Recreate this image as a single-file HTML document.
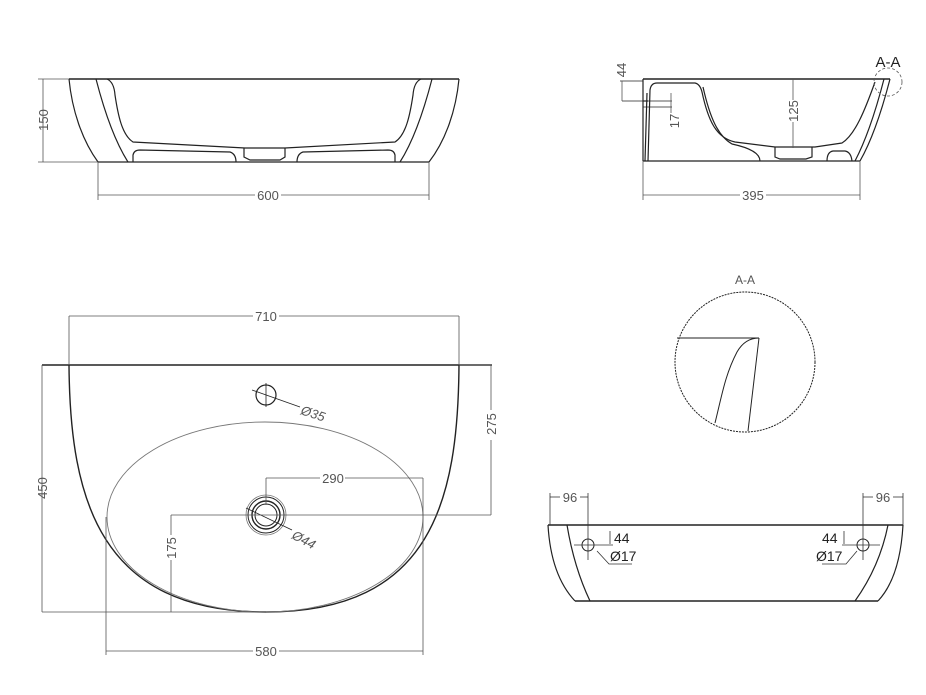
<!DOCTYPE html>
<html><head><meta charset="utf-8"><style>
html,body{margin:0;padding:0;background:#fff;width:926px;height:695px;overflow:hidden}
svg{display:block}
text{font-family:"Liberation Sans",sans-serif;fill:#555}
</style></head><body>
<svg width="926" height="695" viewBox="0 0 926 695" xmlns="http://www.w3.org/2000/svg">
<g fill="none" stroke="#222" stroke-width="1.2">
<!-- Top-left elevation -->
<line x1="69" y1="79" x2="459" y2="79" stroke-width="1.5"/>
<line x1="98" y1="162" x2="429" y2="162"/>
<path d="M69 79 C72 110 82 140 98 162"/>
<path d="M459 79 C456 110 446 140 429 162"/>
<path d="M96 79 C104 110 114 140 128 162"/>
<path d="M432 79 C424 110 414 140 400 162"/>
<path d="M107 79 Q114 82 115 95 C118 115 122 135 133 142 L245 148 L285 148 L395 142 C406 135 410 115 413 95 Q414 82 421 79"/>
<path d="M133 162 L133 155 Q134 150 140 150 L230 152 Q236 154 236 162"/>
<path d="M297 162 Q297 154 303 152 L388 150 Q394 150 395 155 L395 162"/>
<path d="M244 148 L244 157 L250 160 L280 160 L285 157 L285 148"/>
</g>
<g stroke="#555" stroke-width="0.8" fill="none">
<line x1="38" y1="79" x2="69" y2="79"/><line x1="38" y1="162" x2="98" y2="162"/>
<line x1="43" y1="79" x2="43" y2="162"/>
<line x1="98" y1="162" x2="98" y2="200"/><line x1="429" y1="162" x2="429" y2="200"/>
<line x1="98" y1="195" x2="255" y2="195"/><line x1="281" y1="195" x2="429" y2="195"/>
</g>
<text x="268" y="200" font-size="13" text-anchor="middle">600</text>
<text transform="translate(48,120) rotate(-90)" font-size="13" text-anchor="middle">150</text>

<!-- Top-right side view -->
<g fill="none" stroke="#222" stroke-width="1.2">
<line x1="643" y1="79" x2="890" y2="79" stroke-width="1.5"/>
<line x1="643" y1="161" x2="860" y2="161"/>
<line x1="643" y1="79" x2="643" y2="161"/>
<path d="M890 79 C882 110 872 140 860 161"/>
<path d="M884 79 C876 110 866 140 855 161"/>
<path d="M648 161 L650 90 Q651 83 657 83 L695 83 Q700 84 702 92 C708 120 716 138 735 142 L775 147 L815 147 L842 143 C855 135 865 110 875 82"/>
<path d="M645 161 L647 93"/>
<path d="M703 87 C710 118 718 136 732 144 Q760 150 760 161"/>
<path d="M775 147 L775 157 L780 159 L806 159 L812 157 L812 147"/>
<path d="M827 161 Q827 152 833 151 L845 151 Q851 152 852 161"/>
<line x1="643" y1="81" x2="620" y2="81" stroke-width="0.8"/>
<line x1="622" y1="101" x2="672" y2="101" stroke-width="0.8"/>
<line x1="643" y1="107" x2="672" y2="107" stroke-width="0.8"/>
<line x1="643" y1="101" x2="648" y2="101"/>
</g>
<g stroke="#555" stroke-width="0.8" fill="none">
<line x1="622" y1="81" x2="622" y2="101"/>
<line x1="671" y1="93" x2="671" y2="113"/>
<line x1="793" y1="79" x2="793" y2="100"/><line x1="793" y1="122" x2="793" y2="148"/>
<line x1="643" y1="161" x2="643" y2="200"/><line x1="860" y1="161" x2="860" y2="200"/>
<line x1="643" y1="195" x2="740" y2="195"/><line x1="766" y1="195" x2="860" y2="195"/>
<circle cx="888" cy="82" r="14" stroke-dasharray="3 2"/>
</g>
<text x="753" y="200" font-size="13" text-anchor="middle">395</text>
<text transform="translate(626,70) rotate(-90)" font-size="13" text-anchor="middle">44</text>
<text transform="translate(679,121) rotate(-90)" font-size="13" text-anchor="middle">17</text>
<text transform="translate(798,111) rotate(-90)" font-size="13" text-anchor="middle">125</text>
<text x="888" y="67" font-size="15" text-anchor="middle" style="fill:#222">A-A</text>

<!-- Plan view -->
<g fill="none" stroke="#222">
<line x1="42" y1="365" x2="492" y2="365" stroke-width="1.5"/>
<path d="M69 365 C70 500 100 612 266 612 C432 612 458 500 459 365" stroke-width="1.4"/>
<ellipse cx="265" cy="517" rx="158" ry="95" stroke="#777" stroke-width="0.9"/>
<circle cx="266" cy="395" r="10" stroke-width="1.2"/>
<line x1="252" y1="390" x2="300" y2="407" stroke-width="0.8"/>
<line x1="266" y1="383" x2="266" y2="407" stroke-width="0.8"/>
<circle cx="266" cy="515" r="20" stroke-width="0.8" stroke="#777"/>
<circle cx="266" cy="515" r="18" stroke-width="1"/>
<circle cx="266" cy="515" r="14" stroke-width="1.4"/>
<circle cx="266" cy="515" r="11" stroke-width="1"/>
<line x1="246" y1="508" x2="292" y2="530" stroke-width="0.8"/>
</g>
<g stroke="#555" stroke-width="0.8" fill="none">
<line x1="69" y1="316" x2="69" y2="365"/><line x1="459" y1="316" x2="459" y2="365"/>
<line x1="69" y1="316" x2="253" y2="316"/><line x1="279" y1="316" x2="459" y2="316"/>
<line x1="42" y1="365" x2="42" y2="612"/><line x1="42" y1="612" x2="266" y2="612"/>
<line x1="459" y1="365" x2="492" y2="365"/>
<line x1="491" y1="365" x2="491" y2="410"/><line x1="491" y1="440" x2="491" y2="515"/>
<line x1="171" y1="515" x2="491" y2="515"/>
<line x1="171" y1="515" x2="171" y2="535"/><line x1="171" y1="560" x2="171" y2="612"/>
<line x1="266" y1="478" x2="266" y2="505"/>
<line x1="266" y1="478" x2="320" y2="478"/><line x1="345" y1="478" x2="423" y2="478"/>
<line x1="423" y1="478" x2="423" y2="655"/>
<line x1="106" y1="517" x2="106" y2="655"/>
<line x1="106" y1="651" x2="253" y2="651"/><line x1="279" y1="651" x2="423" y2="651"/>
</g>
<text x="266" y="321" font-size="13" text-anchor="middle">710</text>
<text x="266" y="656" font-size="13" text-anchor="middle">580</text>
<text x="333" y="483" font-size="13" text-anchor="middle">290</text>
<text transform="translate(47,488) rotate(-90)" font-size="13" text-anchor="middle">450</text>
<text transform="translate(496,424) rotate(-90)" font-size="13" text-anchor="middle">275</text>
<text transform="translate(176,548) rotate(-90)" font-size="13" text-anchor="middle">175</text>
<text transform="translate(300,414) rotate(18)" font-size="13" font-style="italic">Ø35</text>
<text transform="translate(291,538) rotate(28)" font-size="13" font-style="italic">Ø44</text>

<!-- A-A detail -->
<text x="745" y="284" font-size="12" text-anchor="middle">A-A</text>
<g fill="none" stroke="#222" stroke-width="1">
<circle cx="745" cy="362" r="70" stroke-dasharray="2 1"/>
<line x1="677" y1="338" x2="759" y2="338"/>
<path d="M759 338 Q745 338 737 352 C725 375 722 395 715 423"/>
<line x1="759" y1="338" x2="748" y2="431"/>
</g>

<!-- Bottom-right front view -->
<g fill="none" stroke="#222" stroke-width="1.2">
<line x1="548" y1="525" x2="903" y2="525" stroke-width="1.5"/>
<line x1="575" y1="601" x2="878" y2="601" stroke-width="1.5"/>
<path d="M548 525 C550 560 560 585 575 601"/>
<path d="M903 525 C901 560 893 585 878 601"/>
<path d="M567 525 C572 555 580 580 590 601"/>
<path d="M888 525 C882 555 870 580 855 601"/>
<circle cx="588" cy="545" r="6" stroke-width="1"/>
<circle cx="863" cy="545" r="6" stroke-width="1"/>
</g>
<g stroke="#333" stroke-width="0.8" fill="none">
<line x1="588" y1="493" x2="588" y2="560"/><line x1="574" y1="545" x2="613" y2="545"/>
<line x1="863" y1="493" x2="863" y2="560"/><line x1="842" y1="545" x2="880" y2="545"/>
<line x1="550" y1="493" x2="550" y2="525"/><line x1="903" y1="493" x2="903" y2="525"/>
<line x1="550" y1="497" x2="560" y2="497"/><line x1="580" y1="497" x2="588" y2="497"/>
<line x1="863" y1="497" x2="873" y2="497"/><line x1="893" y1="497" x2="903" y2="497"/>
<line x1="610" y1="531" x2="610" y2="544"/><line x1="844" y1="531" x2="844" y2="544"/>
<path d="M597 551 L609 564 L632 564"/><path d="M822 564 L846 564 L857 551"/>
</g>
<text x="570" y="502" font-size="13" text-anchor="middle">96</text>
<text x="883" y="502" font-size="13" text-anchor="middle">96</text>
<text x="614" y="543" font-size="14" style="fill:#222">44</text>
<text x="822" y="543" font-size="14" style="fill:#222">44</text>
<text x="610" y="561" font-size="14" style="fill:#222">Ø17</text>
<text x="816" y="561" font-size="14" style="fill:#222">Ø17</text>
</svg>
</body></html>
